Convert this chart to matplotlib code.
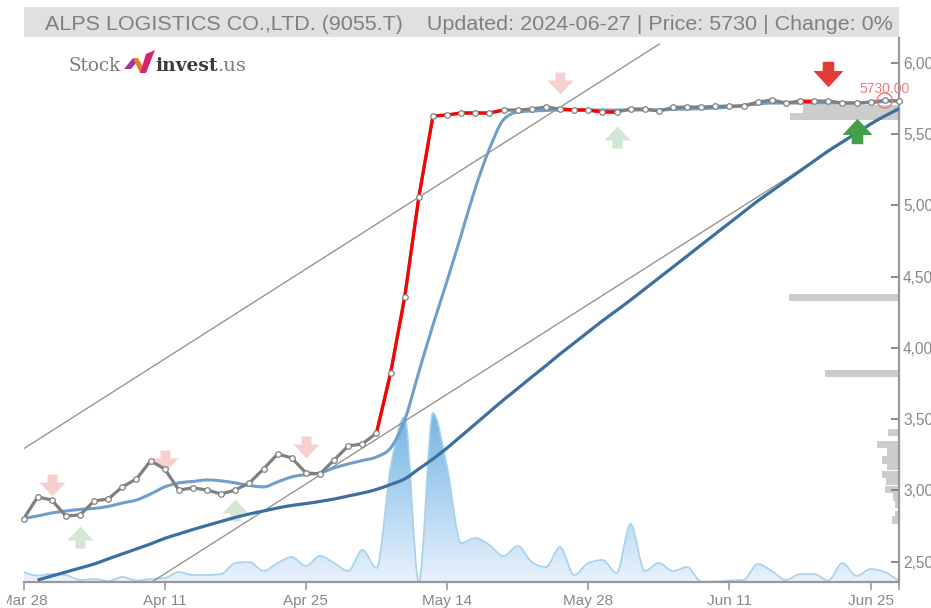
import numpy as np
import matplotlib
matplotlib.use("Agg")
import matplotlib.pyplot as plt
from matplotlib.path import Path
from matplotlib.patches import PathPatch, Rectangle, Polygon
from matplotlib.transforms import Affine2D, Bbox

TITLE = "ALPS LOGISTICS CO.,LTD. (9055.T)    Updated: 2024-06-27 | Price: 5730 | Change: 0%"
x_ticks = [0, 10, 20, 30, 40, 50, 60, 62]
x_labels = ["Mar 28", "Apr 11", "Apr 25", "May 14", "May 28", "Jun 11", "Jun 25", ""]
y_ticks = [2500, 3000, 3500, 4000, 4500, 5000, 5500, 6000]

close = [2800, 2954, 2933, 2821, 2828, 2926, 2940, 3025, 3081, 3207, 3151, 3003, 3018, 3003, 2975, 3003,
         3053, 3151, 3256, 3228, 3123, 3116, 3214, 3312, 3326, 3403, 3824, 4357, 5058, 5626, 5633, 5647,
         5647, 5647, 5668, 5668, 5675, 5689, 5675, 5668, 5668, 5654, 5654, 5675, 5675, 5661, 5686, 5689,
         5689, 5693, 5696, 5696, 5724, 5738, 5717, 5731, 5731, 5731, 5717, 5717, 5724, 5735, 5730]
red_spans = [(25, 34), (38, 42), (55, 56)]

ma_short = [2804, 2821, 2842, 2856, 2867, 2874, 2888, 2912, 2933, 2975, 3025, 3053, 3063, 3074, 3067, 3053,
            3035, 3025, 3060, 3095, 3112, 3123, 3158, 3186, 3210, 3235, 3298, 3494, 3831, 4160, 4470, 4792,
            5120, 5395, 5600, 5654, 5661, 5665, 5668, 5668, 5668, 5668, 5668, 5668, 5668, 5668, 5672, 5675,
            5678, 5682, 5689, 5700, 5710, 5717, 5717, 5717, 5717, 5717, 5717, 5717, 5720, 5728, 5735]

ma_long = [2372, 2400, 2428, 2456, 2484, 2520, 2555, 2590, 2625, 2664, 2695, 2726, 2755, 2783, 2811, 2835,
           2856, 2877, 2895, 2908, 2923, 2940, 2961, 2982, 3007, 3042, 3081, 3151, 3221, 3298, 3382, 3466,
           3551, 3635, 3715, 3796, 3875, 3957, 4034, 4112, 4189, 4262, 4336, 4413, 4490, 4567, 4644, 4722,
           4799, 4876, 4953, 5030, 5100, 5170, 5241, 5311, 5381, 5444, 5507, 5570, 5626, 5675]

volume = [10, 6.5, 8, 7, 2, 3, 1, 5, 1.5, 3, 4, 10, 7, 7, 8, 19, 20, 11, 19, 25, 16, 26, 19, 11, 32, 14,
          115, 165, 0, 169, 115, 39, 44, 37, 26, 36, 20, 15, 35, 7, 19, 22, 9, 58, 11, 19, 11, 15, 0.5, 0.5,
          1.5, 2, 18, 11, 2, 8, 8, 1.5, 19, 6, 13, 10, 1]

channel_upper_x = [0, 45.04]
channel_upper_y = [3292, 6131]
channel_lower_x = [9.1, 62]
channel_lower_y = [2359, 5689]

profile_price = [5675, 5623, 4353, 3820, 3407, 3323, 3270, 3214, 3170, 3112, 3060, 3007, 2954, 2905, 2830, 2793]
profile_size = [96, 109, 110, 74, 11, 22, 12, 17, 12, 17, 13, 14, 6, 4, 4, 7]

sell_x = [2, 10, 20, 38]
sell_y = [3035, 3210, 3302, 5854]
buy_x = [4, 15, 42]
buy_y = [2674, 2860, 5479]
strong_sell_x, strong_sell_y = [57], [5924]
strong_buy_x, strong_buy_y = [59], [5518]
last_x, last_y, last_label = 61, 5735, "5730.00"

W, H = 931, 608
L, R, B, T = 23.5, 898.9, 582, 38
XLIM = (0, 62)
YLIM = (2358, 6173)
GREY = "#888888"
plt.rcParams["font.family"] = ["Liberation Sans", "DejaVu Sans"]


def monotone_path(xs, ys, close_base=None):
    """Same curve construction as d3.curveMonotoneX."""
    xs = np.asarray(xs, float)
    ys = np.asarray(ys, float)
    d = np.diff(ys) / np.diff(xs)
    m = np.zeros_like(ys)
    for i in range(1, len(ys) - 1):
        if d[i - 1] * d[i] > 0:
            p = (d[i - 1] + d[i]) / 2
            m[i] = np.sign(d[i]) * min(2 * abs(d[i - 1]), 2 * abs(d[i]), abs(p))
    m[0] = (3 * d[0] - m[1]) / 2
    m[-1] = (3 * d[-1] - m[-2]) / 2
    verts = [(xs[0], ys[0])]
    codes = [Path.MOVETO]
    for i in range(len(xs) - 1):
        h = (xs[i + 1] - xs[i]) / 3
        verts += [(xs[i] + h, ys[i] + m[i] * h), (xs[i + 1] - h, ys[i + 1] - m[i + 1] * h), (xs[i + 1], ys[i + 1])]
        codes += [Path.CURVE4] * 3
    if close_base is not None:
        verts += [(xs[-1], close_base), (xs[0], close_base), (xs[0], ys[0])]
        codes += [Path.LINETO, Path.LINETO, Path.CLOSEPOLY]
    return Path(verts, codes)


fig = plt.figure(figsize=(W / 100, H / 100), dpi=100, facecolor="white")
rect = [L / W, 1 - B / H, (R - L) / W, (B - T) / H]
px = Affine2D().scale(1, -1).translate(0, H)

# header
fig.add_artist(Rectangle((L, 7), R - L, 30, transform=px, facecolor="#e0e0e0", edgecolor="none"))
fig.text(468.5 / W, 1 - 24 / H, TITLE, ha="center", va="center", fontsize=15.45, color="#808080")

# logo
fig.text(68 / W, 1 - 66 / H, "Stock", ha="left", va="center", fontsize=13.2, family="DejaVu Serif", color="#7b7b7b")
fig.text(155 / W, 1 - 66 / H, "invest", ha="left", va="center", fontsize=13.5, family="DejaVu Serif", weight="bold", color="#3d3d3d")
fig.text(217 / W, 1 - 66 / H, ".us", ha="left", va="center", fontsize=14, family="DejaVu Serif", color="#7b7b7b")
fig.add_artist(Polygon([(124, 69), (133, 58), (137, 62), (131, 69)], transform=px, facecolor="#9c3a9e", edgecolor="none"))
fig.add_artist(Polygon([(133, 58), (138, 58), (146, 72), (140, 73)], transform=px, facecolor="#ef7b2d", edgecolor="none"))
fig.add_artist(Polygon([(140, 73), (146, 73), (155, 50), (146, 54)], transform=px, facecolor="#d6246e", edgecolor="none"))

# volume layer
axv = fig.add_axes(rect, zorder=1)
axv.set_xlim(*XLIM)
axv.set_ylim(0, B - T)
axv.axis("off")
grad = np.linspace(0, 1, 256)[:, None, None] * np.array([0x74 - 0xe8, 0xb5 - 0xf2, 0xe4 - 0xfb]) / 255
grad = grad + np.array([0xe8, 0xf2, 0xfb]) / 255
vx = np.arange(len(volume))
im = axv.imshow(grad, origin="lower", extent=(0, 62, 0, max(volume)), aspect="auto", zorder=1)
axv.set_xlim(*XLIM)
axv.set_ylim(0, B - T)
clip = PathPatch(monotone_path(vx, volume, close_base=0), transform=axv.transData, facecolor="none", edgecolor="none")
axv.add_patch(clip)
im.set_clip_path(clip)
axv.add_patch(PathPatch(monotone_path(vx, volume), fill=False, edgecolor="#a5d2f0", lw=1.2, zorder=2))

# price profile layer
axp = fig.add_axes(rect, zorder=2)
axp.set_xlim(R - L, 0)
axp.set_ylim(*YLIM)
axp.axis("off")
axp.barh(profile_price, profile_size, height=50, color="#cccccc", edgecolor="none")

# main layer
ax = fig.add_axes(rect, zorder=3)
ax.patch.set_alpha(0)
ax.set_xlim(*XLIM)
ax.set_ylim(*YLIM)
for s in ("top", "left"):
    ax.spines[s].set_visible(False)
for s in ("bottom", "right"):
    ax.spines[s].set_color("#999999")
    ax.spines[s].set_linewidth(1.6)
ax.yaxis.tick_right()
ax.set_yticks(y_ticks)
ax.set_yticklabels([f"{v:,}" for v in y_ticks], fontsize=11.2, color=GREY)
ax.set_xticks(x_ticks)
ax.set_xticklabels(x_labels, fontsize=11, color=GREY)
ax.tick_params(axis="y", direction="in", length=5.5, width=1.2, color="#777777", pad=3)
ax.tick_params(axis="x", direction="out", length=5.5, width=1.2, color="#999999", pad=3)
first_label = ax.get_xticklabels()[0]
first_label.set_clip_box(Bbox([[7, 0], [W, H]]))
first_label.set_clip_on(True)

ax.plot(channel_upper_x, channel_upper_y, color="#8c8c8c", lw=0.9, zorder=2)
ax.plot(channel_lower_x, channel_lower_y, color="#8c8c8c", lw=0.9, zorder=2)

ax.add_patch(PathPatch(monotone_path(np.arange(len(ma_short)), ma_short), fill=False, edgecolor="#6f9fca", lw=2.2, zorder=3))
ax.add_patch(PathPatch(monotone_path(np.arange(1, len(ma_long) + 1), ma_long), fill=False, edgecolor="#3d6f9f", lw=2.3, zorder=3))

arrow_up = Path([(0, 11), (13, -3), (5, -3), (5, -11), (-5, -11), (-5, -3), (-13, -3), (0, 11)], closed=True)
arrow_down = Path([(0, -11), (13, 3), (5, 3), (5, 11), (-5, 11), (-5, 3), (-13, 3), (0, -11)], closed=True)
ax.scatter(sell_x, sell_y, marker=arrow_down, s=350, color="#f8cfcf", linewidths=0, zorder=1)
ax.scatter(buy_x, buy_y, marker=arrow_up, s=350, color="#d2e8d2", linewidths=0, zorder=1)
ax.scatter(strong_sell_x, strong_sell_y, marker=arrow_down, s=467, color="#e53935", linewidths=0, zorder=6)
ax.scatter(strong_buy_x, strong_buy_y, marker=arrow_up, s=467, color="#43a047", linewidths=0, zorder=6)

idx = np.arange(len(close))
ax.plot(idx, close, color="#808080", lw=2.3, zorder=4, solid_joinstyle="round")
for a, b in red_spans:
    ax.plot(idx[a:b + 1], close[a:b + 1], color="#ff0000", lw=2.3, zorder=4.5, solid_joinstyle="round")
ax.plot(idx, close, ls="none", marker="o", ms=4, mfc="white", mec="#808080", mew=0.9, zorder=5, clip_on=False)

ax.scatter([last_x], [last_y], s=117, facecolors="none", edgecolors="#ee7777", linewidths=1.0, zorder=6)
ax.annotate(last_label, (last_x, last_y), xytext=(0, 8.6), textcoords="offset points", ha="center", va="center",
            fontsize=10, color="#f27a7a", zorder=6, annotation_clip=False)

fig.savefig("out.png", dpi=100)
